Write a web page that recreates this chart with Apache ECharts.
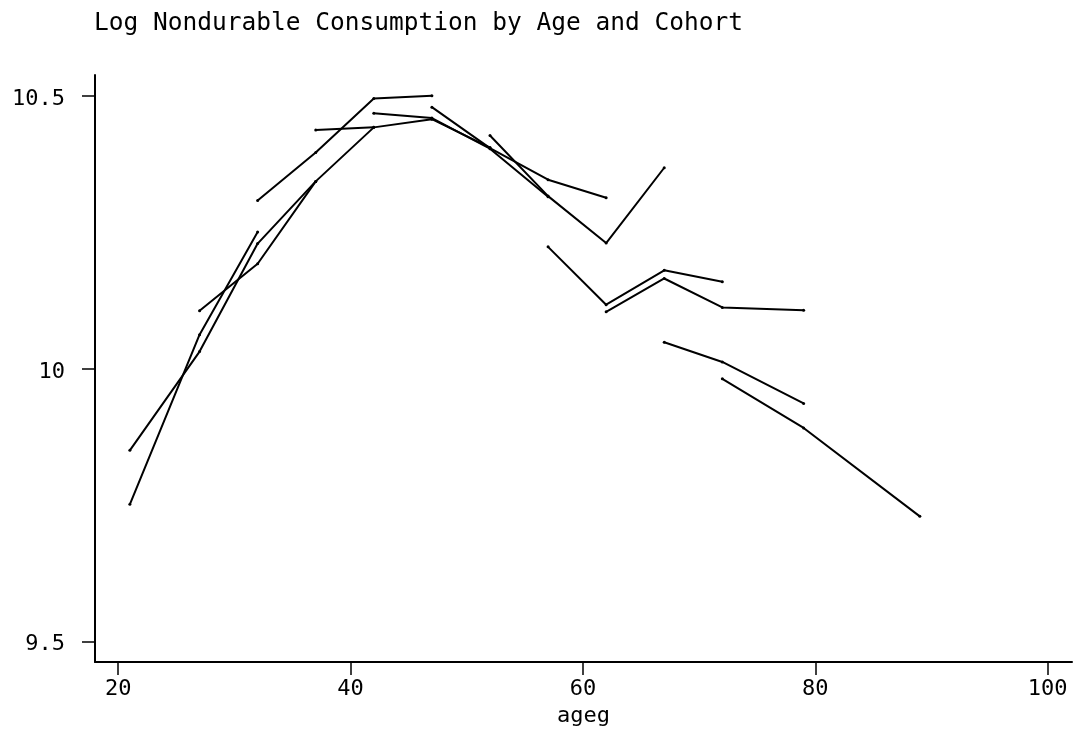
<!DOCTYPE html>
<html>
<head>
<meta charset="utf-8">
<script src="https://cdn.jsdelivr.net/npm/echarts@6/dist/echarts.min.js"></script>
<style>
  html, body { margin: 0; padding: 0; background: #fff; }
  #chart { width: 1074px; height: 732px; }
</style>
</head>
<body>
<div id="chart"></div>
<script>
// age groups on the x axis
var ages = [21, 27, 32, 37, 42, 47, 52, 57, 62, 67, 72, 79, 89];

// one array per cohort, aligned with ages (null = cohort not observed)
var cohort1  = [9.751, 10.062, 10.250, null, null, null, null, null, null, null, null, null, null];
var cohort2  = [9.850, 10.031, 10.229, 10.343, null, null, null, null, null, null, null, null, null];
var cohort3  = [null, 10.106, 10.192, 10.343, 10.442, null, null, null, null, null, null, null, null];
var cohort4  = [null, null, 10.308, 10.396, 10.495, 10.500, null, null, null, null, null, null, null];
var cohort5  = [null, null, null, 10.437, 10.442, 10.457, 10.405, null, null, null, null, null, null];
var cohort6  = [null, null, null, null, 10.468, 10.459, 10.403, 10.315, null, null, null, null, null];
var cohort7  = [null, null, null, null, null, 10.479, 10.404, 10.346, 10.313, null, null, null, null];
var cohort8  = [null, null, null, null, null, null, 10.427, 10.316, 10.230, 10.368, null, null, null];
var cohort9  = [null, null, null, null, null, null, null, 10.223, 10.117, 10.180, 10.159, null, null];
var cohort10 = [null, null, null, null, null, null, null, null, 10.104, 10.165, 10.112, 10.107, null];
var cohort11 = [null, null, null, null, null, null, null, null, null, 10.048, 10.012, 9.936, null];
var cohort12 = [null, null, null, null, null, null, null, null, null, null, 9.981, 9.891, 9.729];

var cohorts = [cohort1, cohort2, cohort3, cohort4, cohort5, cohort6,
               cohort7, cohort8, cohort9, cohort10, cohort11, cohort12];

var xTicks = [20, 40, 60, 80, 100];
var yTicks = [9.5, 10, 10.5];

var font = 'DejaVu Sans Mono';

var series = cohorts.map(function (vals, i) {
  var pts = [];
  vals.forEach(function (v, j) {
    if (v !== null) pts.push([ages[j], v]);
  });
  return {
    name: 'cohort ' + (i + 1),
    type: 'line',
    data: pts,
    symbol: 'circle',
    symbolSize: 3,
    itemStyle: { color: '#000' },
    lineStyle: { color: '#000', width: 2 },
    animation: false
  };
});

var chart = echarts.init(document.getElementById('chart'));
chart.setOption({
  backgroundColor: '#fff',
  title: {
    text: 'Log Nondurable Consumption by Age and Cohort',
    left: 89,
    top: 6,
    textStyle: { fontFamily: font, fontSize: 24.5, fontWeight: 'normal', color: '#000' }
  },
  grid: { left: 95, right: 2, top: 75, bottom: 70 },
  xAxis: {
    type: 'value',
    min: 18,
    max: 102.1,
    name: 'ageg',
    nameLocation: 'middle',
    nameGap: 41,
    nameTextStyle: { fontFamily: font, fontSize: 22, color: '#000' },
    splitLine: { show: false },
    axisLine: { show: true, lineStyle: { color: '#000', width: 2 } },
    axisTick: { show: true, length: 13, customValues: xTicks, lineStyle: { color: '#000', width: 1.5 } },
    axisLabel: { customValues: xTicks, margin: 16, fontFamily: font, fontSize: 22, color: '#000' }
  },
  yAxis: {
    type: 'value',
    min: 9.462,
    max: 10.538,
    splitLine: { show: false },
    axisLine: { show: true, lineStyle: { color: '#000', width: 2 } },
    axisTick: { show: true, length: 13, customValues: yTicks, lineStyle: { color: '#000', width: 1.5 } },
    axisLabel: { customValues: yTicks, margin: 30, verticalAlign: 'top', lineHeight: 7, fontFamily: font, fontSize: 22, color: '#000' }
  },
  series: series
});
</script>
</body>
</html>
